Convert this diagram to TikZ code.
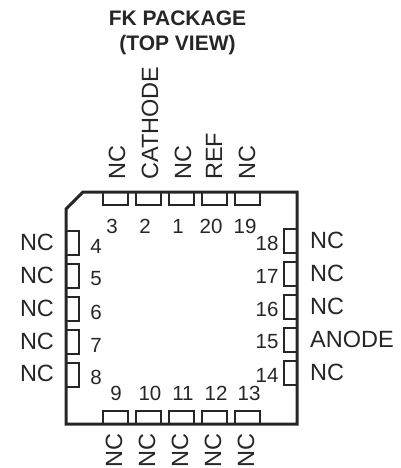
\documentclass[tikz,border=0pt]{standalone}
\usepackage{fontspec}
\setmainfont{Liberation Sans}
\tikzset{
  pinname/.style={inner sep=0pt, font=\fontsize{23.5}{23.5}\selectfont, text=black!85},
  pinnum/.style={inner sep=0pt, font=\fontsize{20.5}{20.5}\selectfont, text=black!85},
  titletext/.style={inner sep=0pt, font=\fontsize{21}{21}\selectfont\bfseries, text=black!85},
  pad/.style={line width=2pt, draw=black!85},
  body/.style={line width=3pt, draw=black!85, line join=miter}
}
\begin{document}
\begin{tikzpicture}[x=1pt, y=-1pt]
  \useasboundingbox (0,0) rectangle (401,468);
  %package outline
    \draw[body] (83,192) -- (297,192) -- (297,424) -- (66,424) -- (66,209) -- cycle;
  %pads on the four sides
    \foreach \x in {103,136,169,202,235} {
      \draw[pad] (\x,192) -- (\x,205) -- (\x+25,205) -- (\x+25,192);
      \draw[pad] (\x,424) -- (\x,411) -- (\x+25,411) -- (\x+25,424);
    }
    \foreach \y in {231,264,297,330,363} {
      \draw[pad] (66,\y) -- (79,\y) -- (79,\y+24) -- (66,\y+24);
      \draw[pad] (297,\y-2) -- (284,\y-2) -- (284,\y+22) -- (297,\y+22);
    }
  %top pins
    \foreach \x/\n in {112/3, 145/2, 178/1, 211/20, 245/19} {
      \node[pinnum] (num\n) at (\x,226) {\n};
    }
    \node[pinname, rotate=90, anchor=west] (top3) at (117,180) {NC};
    \node[pinname, rotate=90, anchor=west] (top2) at (150,180) {CATHODE};
    \node[pinname, rotate=90, anchor=west] (top1) at (183,180) {NC};
    \node[pinname, rotate=90, anchor=west] (top20) at (214,180) {REF};
    \node[pinname, rotate=90, anchor=west] (top19) at (247,180) {NC};
  %bottom pins
    \foreach \x/\n/\l in {116/9/114, 150/10/147, 183/11/180, 216/12/213, 249/13/246} {
      \node[pinnum] (num\n) at (\x,393) {\n};
      \node[pinname, rotate=90, anchor=west] (bot\n) at (\l,467.5) {NC};
    }
  %left pins
    \foreach \y/\n in {242/4, 275/5, 308/6, 341/7, 373/8} {
      \node[pinnum] (num\n) at (96,\y+4) {\n};
      \node[pinname] (left\n) at (37,\y) {NC};
    }
  %right pins
    \foreach \y/\n/\t in {240/18/NC, 273/17/NC, 306/16/NC, 339/15/ANODE, 372/14/NC} {
      \node[pinnum] (num\n) at (267,\y+3) {\n};
      \node[pinname, anchor=west] (right\n) at (310,\y) {\t};
    }
  %title
    \node[titletext] (title) at (177.5,18) {FK PACKAGE};
    \node[titletext] (view) at (177.5,45) {(TOP VIEW)};
\end{tikzpicture}
\end{document}
